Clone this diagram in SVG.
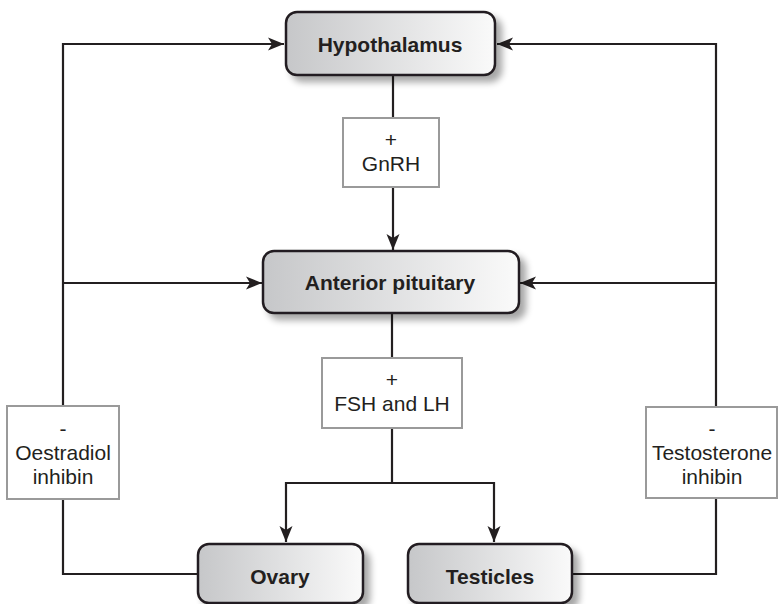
<svg xmlns="http://www.w3.org/2000/svg" width="778" height="604" viewBox="0 0 778 604">
  <defs>
    <linearGradient id="nodeFill" x1="0" y1="0" x2="1" y2="0">
      <stop offset="0" stop-color="#c6c7c9"/>
      <stop offset="1" stop-color="#fafafa"/>
    </linearGradient>
    <filter id="shadow" x="-10%" y="-20%" width="130%" height="160%">
      <feGaussianBlur in="SourceAlpha" stdDeviation="3.5"/>
      <feOffset dx="6" dy="6" result="b"/>
      <feComponentTransfer><feFuncA type="linear" slope="0.35"/></feComponentTransfer>
      <feMerge><feMergeNode/><feMergeNode in="SourceGraphic"/></feMerge>
    </filter>
    <marker id="arrow" markerUnits="userSpaceOnUse" markerWidth="18" markerHeight="14" refX="16" refY="7" orient="auto">
      <path d="M0,0.5 L16,7 L0,13.5 L4,7 Z" fill="#231f20"/>
    </marker>
  </defs>
  <style>
    .node rect { fill: url(#nodeFill); stroke: #231f20; stroke-width: 2.5; }
    .node text { font-family: "Liberation Sans", Arial, sans-serif; font-weight: bold; font-size: 21px; fill: #231f20; text-anchor: middle; }
    .label rect { fill: #ffffff; stroke: #9a9a9a; stroke-width: 2; }
    .label text { font-family: "Liberation Sans", Arial, sans-serif; font-size: 21px; fill: #231f20; text-anchor: middle; }
    .conn path { fill: none; stroke: #231f20; stroke-width: 2.2; }
  </style>

  <!-- connectors -->
  <g id="connectors" class="conn">
    <path d="M393 75 V118"/>
    <path d="M393 187 V250" marker-end="url(#arrow)"/>
    <path d="M392 313 V358"/>
    <path d="M392 428 V483"/>
    <path d="M392 483 H286 V542" marker-end="url(#arrow)"/>
    <path d="M392 483 H494 V542" marker-end="url(#arrow)"/>
    <path d="M198 574 H63 V499"/>
    <path d="M63 406 V44 H284" marker-end="url(#arrow)"/>
    <path d="M63 283 H262" marker-end="url(#arrow)"/>
    <path d="M572 574 H716 V498"/>
    <path d="M716 407 V44 H497" marker-end="url(#arrow)"/>
    <path d="M716 283 H520" marker-end="url(#arrow)"/>
  </g>

  <!-- hormone labels -->
  <g id="gnrh" class="label">
    <rect x="343" y="118" width="96" height="69"/>
    <text x="391" y="147">+</text>
    <text x="391" y="171">GnRH</text>
  </g>
  <g id="fsh-lh" class="label">
    <rect x="322" y="358" width="140" height="70"/>
    <text x="392" y="387">+</text>
    <text x="392" y="411">FSH and LH</text>
  </g>
  <g id="oestradiol" class="label">
    <rect x="7" y="406" width="112" height="93"/>
    <text x="63" y="436">-</text>
    <text x="63" y="460">Oestradiol</text>
    <text x="63" y="484">inhibin</text>
  </g>
  <g id="testosterone" class="label">
    <rect x="646" y="407" width="131" height="91"/>
    <text x="712" y="436">-</text>
    <text x="712" y="460">Testosterone</text>
    <text x="712" y="484">inhibin</text>
  </g>

  <!-- glands -->
  <g id="hypothalamus" class="node">
    <rect x="286" y="12" width="209" height="63" rx="11" filter="url(#shadow)"/>
    <text x="390" y="52">Hypothalamus</text>
  </g>
  <g id="anterior-pituitary" class="node">
    <rect x="263" y="251" width="256" height="62" rx="11" filter="url(#shadow)"/>
    <text x="390" y="290">Anterior pituitary</text>
  </g>
  <g id="ovary" class="node">
    <rect x="198" y="544" width="165" height="59" rx="11" filter="url(#shadow)"/>
    <text x="280" y="584">Ovary</text>
  </g>
  <g id="testicles" class="node">
    <rect x="408" y="544" width="164" height="59" rx="11" filter="url(#shadow)"/>
    <text x="490" y="584">Testicles</text>
  </g>
</svg>
